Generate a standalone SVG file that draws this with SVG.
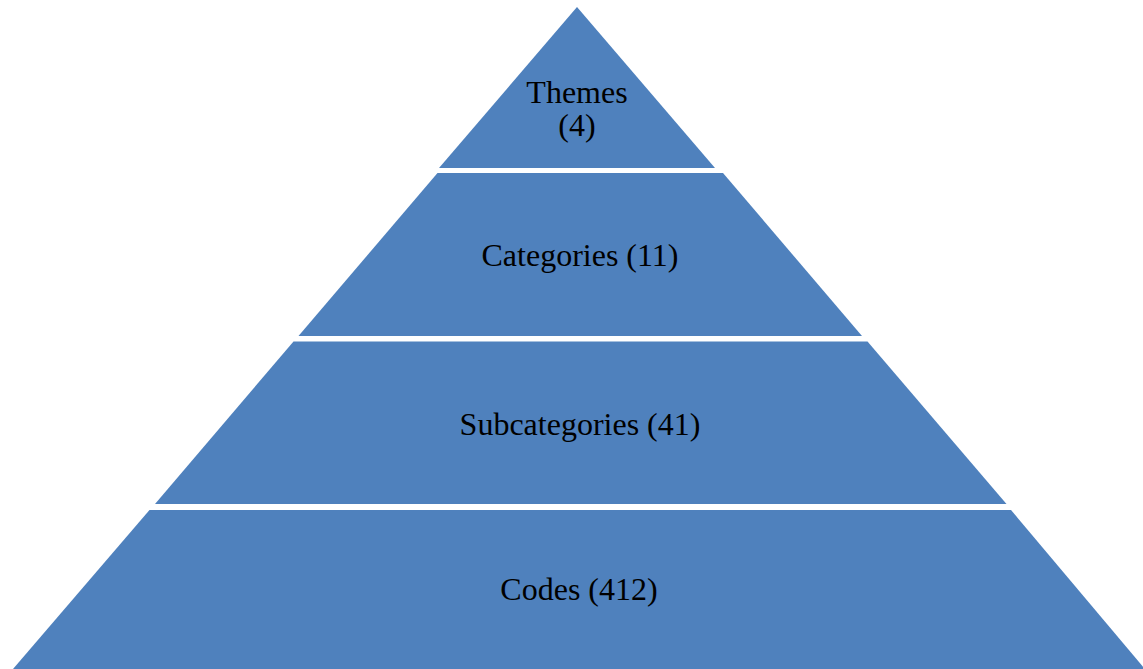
<svg xmlns="http://www.w3.org/2000/svg" width="1143" height="669" viewBox="0 0 1143 669">
<style>
.band{fill:#4F81BD;}
.lbl{font-family:"Liberation Serif","Times New Roman",serif;font-size:32px;fill:#000;text-anchor:middle;}
</style>
<rect width="1143" height="669" fill="#fff"/>
<g id="themes">
<polygon class="band" points="577,7 715,168 439,168"/>
<text class="lbl" x="577" y="103">Themes</text>
<text class="lbl" x="577" y="136">(4)</text>
</g>
<g id="categories">
<polygon class="band" points="437.5,173 723,173 862,336 298.5,336"/>
<text class="lbl" x="580" y="266">Categories (11)</text>
</g>
<g id="subcategories">
<polygon class="band" points="293.5,341.5 867.5,341.5 1006.5,504 155,504"/>
<text class="lbl" x="580" y="435">Subcategories (41)</text>
</g>
<g id="codes">
<polygon class="band" points="149.5,510 1011,510 1145,669 13,669"/>
<text class="lbl" x="579" y="600">Codes (412)</text>
</g>
<g id="connectors"/>
</svg>
